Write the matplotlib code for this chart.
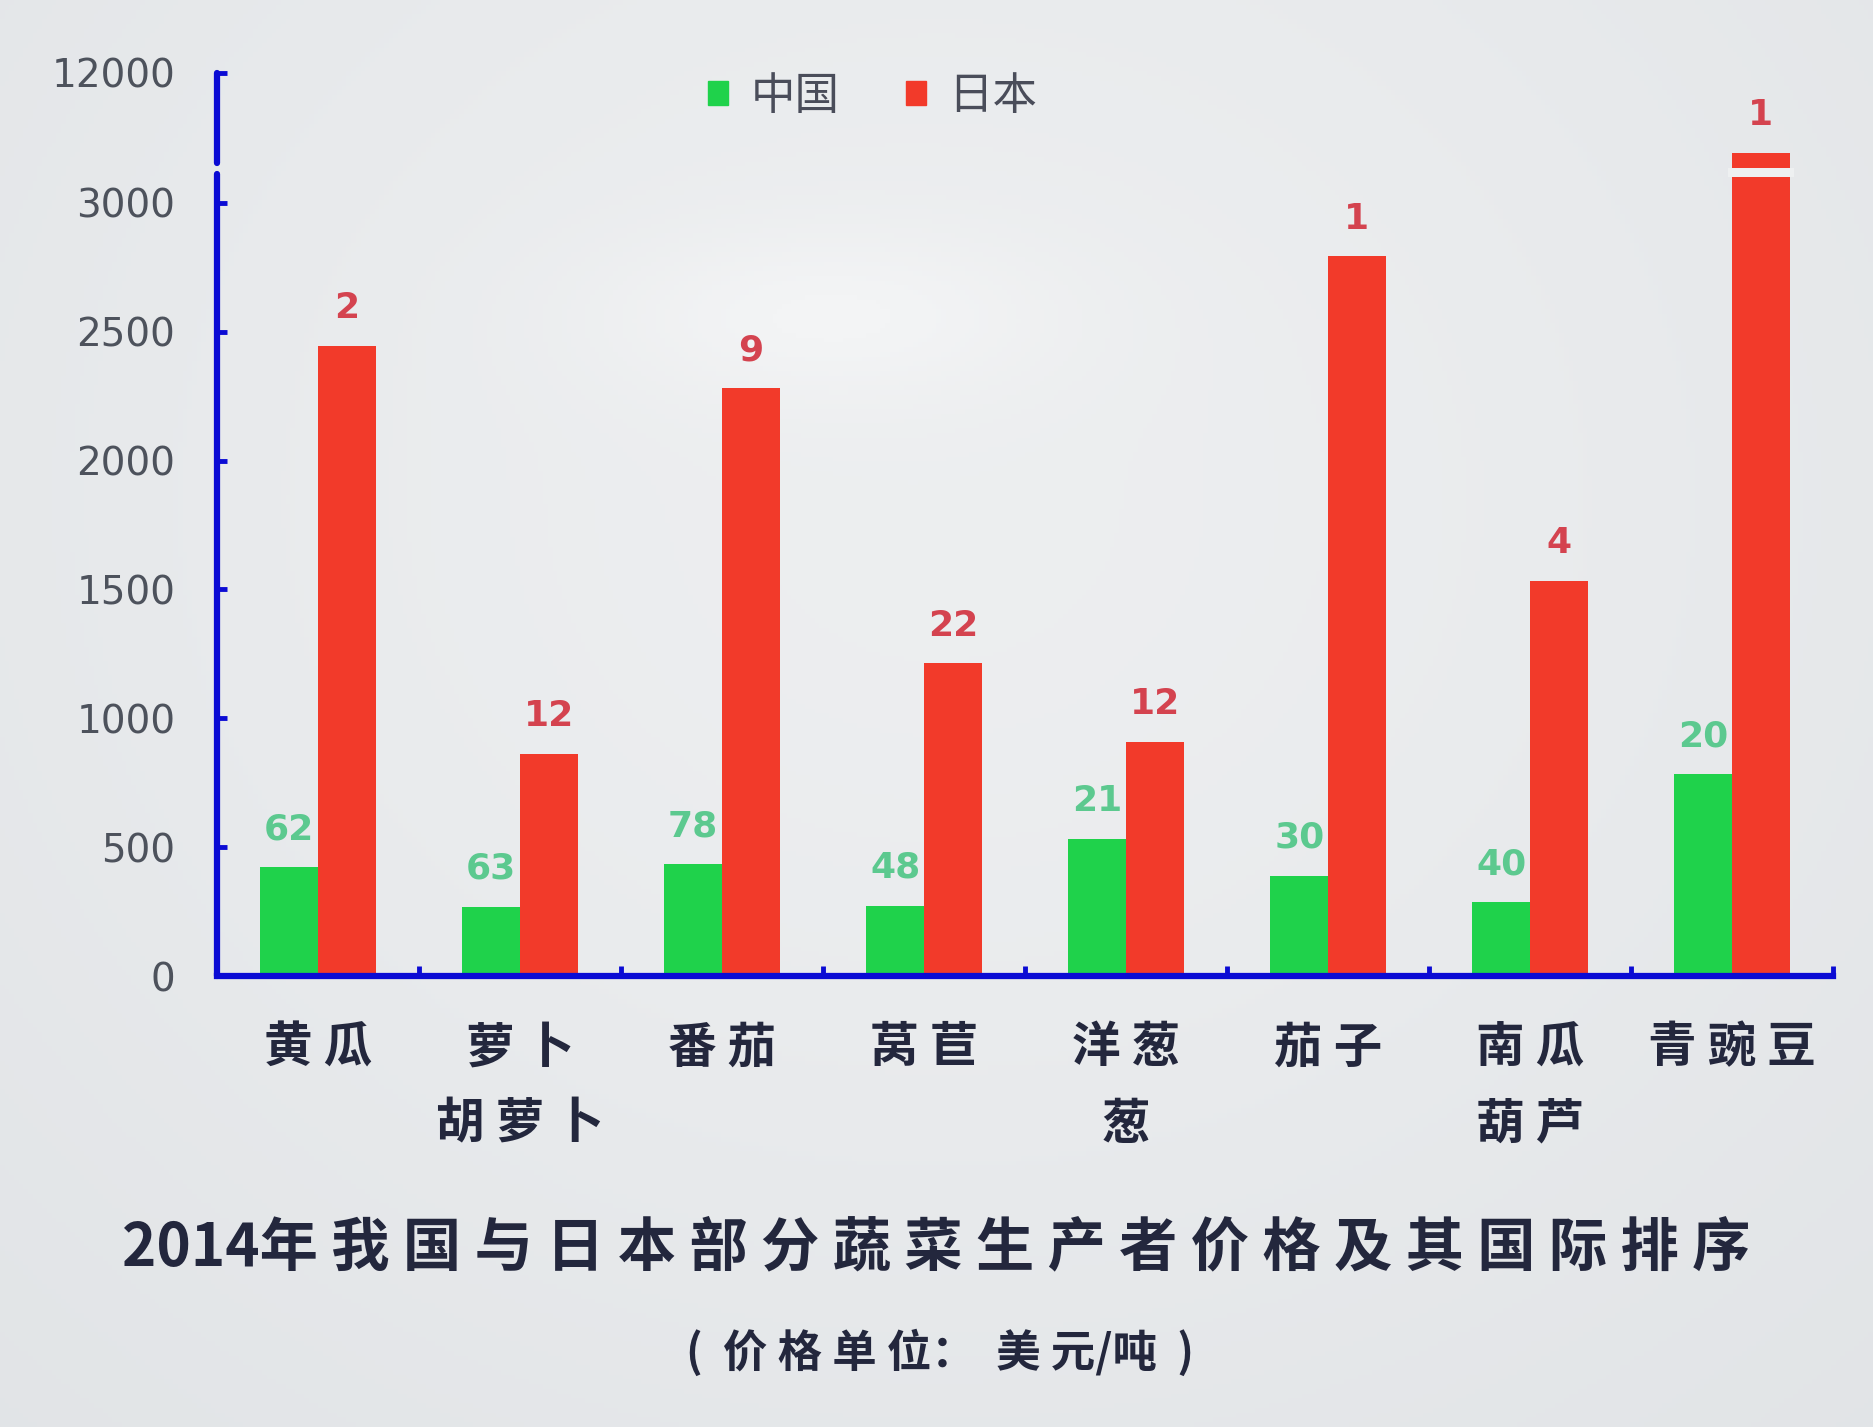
import numpy as np
import matplotlib
matplotlib.use('Agg')
import matplotlib.pyplot as plt
from matplotlib.patches import Patch

plt.rcParams['font.family'] = ['Noto Sans CJK SC', 'DejaVu Sans']

# ---- data -------------------------------------------------------------
categories = ['黄 瓜', '萝 卜\n胡 萝 卜', '番 茄', '莴 苣', '洋 葱\n葱',
              '茄 子', '南 瓜\n葫 芦', '青 豌 豆']
china_price = [421, 269, 435, 273, 532, 389, 287, 782]
japan_price = [2444, 861, 2282, 1213, 907, 2792, 1532, 11690]
china_rank = [62, 63, 78, 48, 21, 30, 40, 20]
japan_rank = [2, 12, 9, 22, 12, 1, 4, 1]
series_names = ['中国', '日本']
ytick_values = [0, 500, 1000, 1500, 2000, 2500, 3000, 12000]
title_text = '2014年 我 国 与 日 本 部 分 蔬 菜 生 产 者 价 格 及 其 国 际 排 序'
subtitle_text = '(  价 格 单 位：  美 元/吨  )'

# ---- styling ----------------------------------------------------------
GREEN = '#1fd24b'
RED = '#f23a2a'
BLUE = '#0b0bd4'
GREEN_LABEL = '#5cc98f'
RED_LABEL = '#d4434f'
TEXT_DARK = '#23273d'
TICK_GREY = '#4d525c'
BAND = '#eef0f1'

# ---- broken y scale: 0..3113 linear, then a short jump to ~11650 -------
LOW_TOP = 3113.0
HIGH_BOTTOM = 11652.0
GAP = 43.0
SHIFT = HIGH_BOTTOM - (LOW_TOP + GAP)


def forward(v):
    v = np.asarray(v, dtype=float)
    mid = LOW_TOP + (v - LOW_TOP) * GAP / (HIGH_BOTTOM - LOW_TOP)
    return np.where(v <= LOW_TOP, v, np.where(v >= HIGH_BOTTOM, v - SHIFT, mid))


def inverse(t):
    t = np.asarray(t, dtype=float)
    mid = LOW_TOP + (t - LOW_TOP) * (HIGH_BOTTOM - LOW_TOP) / GAP
    return np.where(t <= LOW_TOP, t, np.where(t >= LOW_TOP + GAP, t + SHIFT, mid))


W, H = 1873, 1427
fig = plt.figure(figsize=(W / 100, H / 100), dpi=100)

# soft screen-like backdrop
bg = fig.add_axes([0, 0, 1, 1], zorder=-10)
yy, xx = np.mgrid[0:1:300j, 0:1:400j]
base = np.array([222, 225, 228]) / 255
bright = np.array([243, 244, 245]) / 255
glow = np.exp(-(((xx - 0.5) / 0.65) ** 2 + ((yy - 0.35) / 0.75) ** 2))
spot = np.exp(-(((xx - 0.44) / 0.12) ** 2 + ((yy - 0.22) / 0.06) ** 2))
mix = np.clip(0.7 * glow + 0.35 * spot, 0, 1)[..., None]
bg.imshow(base + (bright - base) * mix, aspect='auto', extent=(0, 1, 0, 1))
bg.axis('off')

ax = fig.add_axes([217 / W, 1 - 976 / H, (1833 - 217) / W, (976 - 60) / H])
ax.set_facecolor('none')
ax.set_yscale('function', functions=(forward, inverse))
ax.set_xlim(-0.5, len(categories) - 0.5)
ax.set_ylim(0, 12050)

x = np.arange(len(categories))
w = 0.285
ax.bar(x - w / 2, china_price, w, color=GREEN, zorder=2)
ax.bar(x + w / 2, japan_price, w, color=RED, zorder=2)

# break mark across the over-tall bar
for xi, val in zip(x, japan_price):
    if val > HIGH_BOTTOM:
        lo, hi = inverse(3100.0), inverse(3135.0)
        ax.bar(xi + w / 2, hi - lo, w * 1.15, bottom=lo, color=BAND, zorder=3)

for xi, val, rk in zip(x, china_price, china_rank):
    ax.annotate(str(rk), xy=(xi - w / 2, val), xytext=(0, 20),
                textcoords='offset points', ha='center', va='baseline',
                fontsize=26, fontweight='bold', color=GREEN_LABEL,
                family='DejaVu Sans')
for xi, val, rk in zip(x, japan_price, japan_rank):
    ax.annotate(str(rk), xy=(xi + w / 2, val), xytext=(0, 20),
                textcoords='offset points', ha='center', va='baseline',
                fontsize=26, fontweight='bold', color=RED_LABEL,
                family='DejaVu Sans')

# axes lines
for side in ('top', 'right', 'left'):
    ax.spines[side].set_visible(False)
ax.spines['bottom'].set_color(BLUE)
ax.spines['bottom'].set_linewidth(4.5)
ytr = ax.get_yaxis_transform()
ax.plot([0, 0], [0, LOW_TOP], transform=ytr, color=BLUE, lw=4.5,
        clip_on=False, solid_capstyle='round', zorder=4)
ax.plot([0, 0], [HIGH_BOTTOM, 12000], transform=ytr, color=BLUE, lw=4.5,
        clip_on=False, solid_capstyle='round', zorder=4)

ax.set_yticks(ytick_values)
ax.set_yticklabels([str(v) for v in ytick_values])
ax.tick_params(axis='y', direction='in', length=7, width=3.5, color=BLUE,
               labelsize=28, labelcolor=TICK_GREY, pad=30)
for lab in ax.get_yticklabels():
    lab.set_family('DejaVu Sans')

ax.set_xticks(x)
ax.set_xticklabels(categories, fontsize=35, fontweight='bold', color=TEXT_DARK,
                   linespacing=1.7)
ax.set_xticks(np.arange(0.5, len(categories), 1.0), minor=True)
ax.tick_params(axis='x', which='major', length=0, pad=34)
ax.tick_params(axis='x', which='minor', direction='in', length=7, width=3.5,
               color=BLUE)

handles = [Patch(color=GREEN), Patch(color=RED)]
leg = fig.legend(handles, series_names, loc='center', bbox_to_anchor=(0.466, 0.933),
                 ncol=2, frameon=False, fontsize=32, handlelength=0.45,
                 handleheight=0.45, handletextpad=0.5, columnspacing=1.5)
for t in leg.get_texts():
    t.set_color('#4a4d5a')

fig.text(0.5, 1 - 1248 / H, title_text, ha='center', va='center',
         fontsize=42, fontweight='bold', color=TEXT_DARK)
fig.text(0.502, 1 - 1353 / H, subtitle_text, ha='center', va='center',
         fontsize=32, fontweight='bold', color=TEXT_DARK)

fig.savefig('out.png', dpi=100)
